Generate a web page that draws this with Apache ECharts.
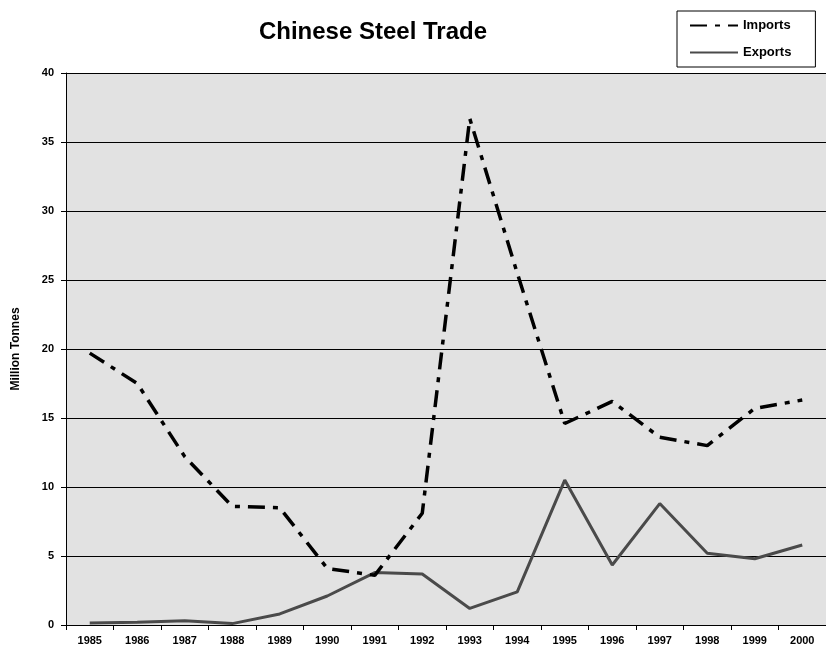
<!DOCTYPE html>
<html>
<head>
<meta charset="utf-8">
<script src="https://cdn.jsdelivr.net/npm/echarts@6/dist/echarts.min.js"></script>
<style>
    html, body { margin: 0; padding: 0; background: #fff; }
    #chart { width: 826px; height: 650px; }
</style>
</head>
<body>
<div id="chart"></div>
<script>
    // years on the x axis
    var years = ['1985', '1986', '1987', '1988', '1989', '1990', '1991', '1992',
                 '1993', '1994', '1995', '1996', '1997', '1998', '1999', '2000'];
    // million tonnes
    var imports = [19.7, 17.5, 12.2, 8.6, 8.5, 4.1, 3.6, 8.1,
                   36.7, 25.5, 14.6, 16.2, 13.6, 13.0, 15.7, 16.3];
    var exports = [0.15, 0.2, 0.3, 0.1, 0.8, 2.1, 3.8, 3.7,
                   1.2, 2.4, 10.5, 4.35, 8.8, 5.2, 4.8, 5.8];

    var labelFont = 'Liberation Sans, Arial, sans-serif';

    var chart = echarts.init(document.getElementById('chart'));
    var option = {
        animation: false,
        title: {
            text: 'Chinese Steel Trade',
            left: 368,
            top: 15,
            textAlign: 'center',
            textStyle: {
                fontFamily: labelFont,
                fontWeight: 'bold',
                fontSize: 24,
                color: '#000'
            }
        },
        legend: {
            orient: 'vertical',
            left: 677,
            top: 11,
            padding: [8, 24, 8, 12],
            itemGap: 14,
            itemWidth: 48,
            itemHeight: 10,
            borderColor: '#000',
            borderWidth: 1,
            backgroundColor: '#fff',
            itemStyle: { opacity: 0 },
            textStyle: {
                fontFamily: labelFont,
                fontWeight: 'bold',
                fontSize: 13,
                color: '#000'
            },
            data: ['Imports', 'Exports']
        },
        grid: {
            left: 66,
            right: 0,
            top: 73,
            bottom: 25,
            show: true,
            backgroundColor: '#e2e2e2',
            borderWidth: 0
        },
        xAxis: {
            type: 'category',
            data: years,
            boundaryGap: true,
            axisLine: { lineStyle: { color: '#000', width: 1 } },
            axisTick: { show: true, length: 5, inside: false, lineStyle: { color: '#000' } },
            axisLabel: {
                color: '#000',
                fontFamily: labelFont,
                fontWeight: 'bold',
                fontSize: 11,
                margin: 10
            },
            splitLine: { show: false }
        },
        yAxis: {
            type: 'value',
            min: 0,
            max: 40,
            interval: 5,
            name: 'Million Tonnes',
            nameLocation: 'middle',
            nameGap: 44,
            nameTextStyle: {
                fontFamily: labelFont,
                fontWeight: 'bold',
                fontSize: 12,
                color: '#000'
            },
            axisLine: { show: true, lineStyle: { color: '#000', width: 1 } },
            axisTick: { show: true, length: 5, lineStyle: { color: '#000' } },
            axisLabel: {
                color: '#000',
                fontFamily: labelFont,
                fontWeight: 'bold',
                fontSize: 11,
                margin: 12
            },
            splitLine: { show: true, lineStyle: { color: '#000', width: 1 } }
        },
        series: [
            {
                name: 'Imports',
                type: 'line',
                data: imports,
                symbol: 'none',
                itemStyle: { color: '#000' },
                lineStyle: {
                    color: '#000',
                    width: 3.5,
                    type: [17, 8, 5, 8]
                },
                z: 3
            },
            {
                name: 'Exports',
                type: 'line',
                data: exports,
                symbol: 'none',
                itemStyle: { color: '#4a4a4a' },
                lineStyle: {
                    color: '#4a4a4a',
                    width: 3
                },
                z: 2
            }
        ]
    };
    chart.setOption(option);
</script>
</body>
</html>
